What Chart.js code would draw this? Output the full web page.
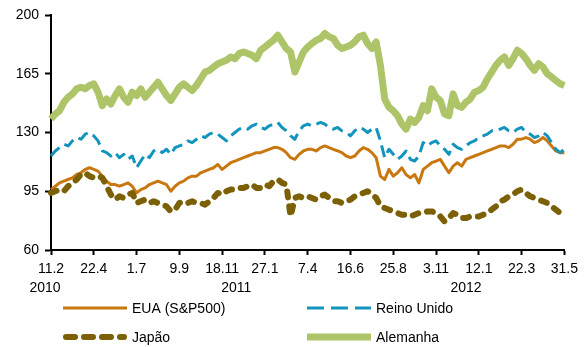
<!DOCTYPE html>
<html>
<head>
<meta charset="utf-8">
<script src="https://cdn.jsdelivr.net/npm/chart.js@4.4.1/dist/chart.umd.min.js"></script>
<style>
  html, body { margin: 0; padding: 0; background: #ffffff; }
  canvas { display: block; }
</style>
</head>
<body>
<canvas id="chart" width="584" height="347"></canvas>
<script>
// Weekly index levels, Feb 2010 – May 2012 (start ≈ 100)
const tickLabels = ['11.2', '22.4', '1.7', '9.9', '18.11', '27.1', '7.4', '16.6', '25.8', '3.11', '12.1', '22.3', '31.5'];
const yearLabels = ['2010', '2011', '2012'];
const seriesNames = ['EUA (S&P500)', 'Reino Unido', 'Japão', 'Alemanha'];

const eua = [96, 98, 100, 101, 102, 103, 105, 106, 108, 109, 108, 107, 104, 101, 99, 99, 98, 99, 100, 98,
  94, 96, 97, 99, 100, 101, 100, 99, 95, 98, 100, 101, 103, 104, 104, 106, 107, 108, 109, 111,
  108, 110, 112, 113, 114, 115, 116, 117, 118, 118, 119, 120, 121, 121, 120, 118, 115, 114, 117, 119,
  120, 120, 119, 121, 122, 121, 120, 119, 118, 116, 115, 116, 119, 121, 120, 118, 115, 104, 102, 108,
  104, 106, 109, 105, 103, 105, 100, 108, 110, 112, 113, 114, 110, 106, 110, 112, 110, 114, 115, 116,
  117, 118, 119, 120, 121, 122, 122, 121, 123, 126, 126, 127, 126, 124, 125, 127, 125, 122, 119, 118, 118];

const reinoUnido = [116, 119, 121, 123, 122, 125, 127, 126, 129, 130, 128, 125, 119, 118, 116, 118, 115, 117, 114, 116,
  109, 113, 117, 115, 119, 120, 118, 120, 117, 121, 122, 123, 125, 124, 126, 128, 127, 129, 130, 129,
  127, 125, 128, 130, 132, 133, 132, 134, 135, 133, 132, 134, 135, 136, 133, 131, 128, 126, 131, 134,
  135, 134, 135, 136, 135, 133, 132, 133, 131, 130, 128, 131, 133, 132, 130, 132, 133, 125, 115, 120,
  117, 114, 116, 119, 114, 113, 116, 124, 122, 124, 125, 122, 120, 117, 123, 121, 120, 122, 124, 125,
  127, 128, 129, 131, 131, 132, 133, 131, 130, 132, 133, 130, 129, 127, 128, 130, 128, 124, 120, 118, 120];

const japao = [94, 95, 96, 95, 98, 100, 102, 105, 106, 104, 103, 104, 103, 98, 93, 90, 92, 91, 93, 94,
  88, 89, 90, 88, 89, 88, 87, 86, 83, 84, 88, 89, 88, 89, 88, 88, 87, 89, 91, 94,
  93, 95, 96, 96, 97, 97, 98, 99, 97, 97, 99, 98, 101, 102, 100, 99, 80, 91, 92, 91,
  92, 91, 90, 92, 93, 91, 89, 89, 88, 89, 90, 92, 93, 94, 95, 93, 91, 86, 85, 84,
  83, 82, 81, 81, 80, 81, 82, 82, 83, 83, 82, 80, 77, 79, 82, 81, 79, 79, 80, 80,
  80, 81, 82, 84, 86, 89, 90, 92, 93, 95, 96, 94, 92, 91, 90, 89, 88, 86, 84, 82, 81];

const alemanha = [138, 141, 143, 148, 151, 153, 156, 157, 156, 158, 159, 154, 146, 150, 147, 152, 156, 151, 148, 154,
  152, 156, 151, 154, 157, 160, 156, 152, 149, 153, 157, 159, 157, 155, 158, 162, 166, 167, 169, 171,
  172, 173, 175, 174, 177, 178, 177, 176, 174, 179, 181, 183, 185, 188, 184, 180, 178, 166, 172, 178,
  181, 183, 185, 186, 189, 187, 186, 182, 180, 181, 182, 184, 187, 188, 183, 180, 184, 170, 150, 145,
  143, 140, 135, 132, 138, 136, 139, 146, 143, 156, 151, 149, 141, 140, 153, 146, 145, 148, 150, 154,
  155, 157, 162, 166, 170, 173, 175, 170, 174, 179, 177, 174, 170, 167, 171, 169, 165, 163, 161, 159, 158];

// one category per week; a labelled tick every ten weeks
const weeks = eua.map((_, i) => i);
const WEEKS_PER_TICK = 10;

const FONT = '"Liberation Sans", Arial, sans-serif';

// year captions under the date ticks (positions in week units)
const yearCaptionPlugin = {
  id: 'yearCaptions',
  afterDraw(chart, args, opts) {
    const { ctx } = chart;
    const xs = chart.scales.x;
    ctx.save();
    ctx.font = '14px ' + FONT;
    ctx.fillStyle = '#000';
    ctx.textAlign = 'center';
    ctx.textBaseline = 'middle';
    yearLabels.forEach((t, k) => {
      ctx.fillText(t, xs.getPixelForValue(opts.at[k]), opts.y);
    });
    ctx.restore();
  }
};

// two-column legend drawn with each dataset's own line style
const gridLegendPlugin = {
  id: 'gridLegend',
  afterDraw(chart, args, opts) {
    const { ctx } = chart;
    ctx.save();
    ctx.font = '14px ' + FONT;
    ctx.textBaseline = 'middle';
    ctx.textAlign = 'left';
    chart.data.datasets.forEach((ds, i) => {
      const col = i % 2, row = Math.floor(i / 2);
      const x = opts.cols[col], y = opts.rows[row];
      ctx.beginPath();
      ctx.strokeStyle = ds.borderColor;
      ctx.lineWidth = ds.borderWidth;
      ctx.lineCap = ds.borderCapStyle || 'butt';
      ctx.setLineDash(ds.legendDash || ds.borderDash || []);
      const pad = ds.borderCapStyle === 'round' ? ds.borderWidth / 2 : 0;
      ctx.moveTo(x + pad, y);
      ctx.lineTo(x + opts.lineLen - pad, y);
      ctx.stroke();
      ctx.setLineDash([]);
      ctx.fillStyle = '#000';
      ctx.fillText(ds.label, x + opts.lineLen + 5, y + 1);
    });
    ctx.restore();
  }
};

new Chart(document.getElementById('chart'), {
  type: 'line',
  data: {
    labels: weeks,
    datasets: [
      {
        label: seriesNames[0], data: eua,
        borderColor: '#C8780F', borderWidth: 3, order: 2
      },
      {
        label: seriesNames[1], data: reinoUnido,
        borderColor: '#1195BD', borderWidth: 3, borderDash: [12, 6], legendDash: [17, 7], order: 1
      },
      {
        label: seriesNames[2], data: japao,
        borderColor: '#7C6005', borderWidth: 6, borderDash: [6, 9], borderCapStyle: 'round',
        legendDash: [9, 9], order: 0
      },
      {
        label: seriesNames[3], data: alemanha,
        borderColor: '#ADC468', borderWidth: 7, order: 3
      }
    ]
  },
  options: {
    responsive: false,
    devicePixelRatio: 1,
    animation: false,
    layout: { padding: { top: 15, right: 17, left: 0, bottom: 0 } },
    elements: {
      point: { radius: 0, hoverRadius: 0 },
      line: { tension: 0, borderJoinStyle: 'round', fill: false }
    },
    plugins: {
      legend: { display: false },
      tooltip: { enabled: false },
      yearCaptions: { at: [-1.4, 43.3, 97], y: 288 },
      gridLegend: { cols: [63, 307], rows: [308, 337], lineLen: 64 }
    },
    scales: {
      x: {
        type: 'category',
        afterFit(scale) { scale.height = 97; },
        border: { display: true, color: '#000', width: 2 },
        grid: { display: true, drawOnChartArea: false, drawTicks: true, tickLength: 5, tickColor: '#000', tickWidth: 2 },
        ticks: {
          autoSkip: false, maxRotation: 0, padding: 6, color: '#000',
          font: { family: FONT, size: 14 },
          callback: (v, i) => (i % WEEKS_PER_TICK === 0 ? tickLabels[i / WEEKS_PER_TICK] : null)
        }
      },
      y: {
        min: 60, max: 200,
        afterFit(scale) { scale.width = 51; },
        border: { display: true, color: '#000', width: 2 },
        grid: { display: true, drawOnChartArea: false, drawTicks: true, tickLength: 6, tickColor: '#000', tickWidth: 2 },
        ticks: { stepSize: 35, padding: 6, color: '#000', font: { family: FONT, size: 14 } }
      }
    }
  },
  plugins: [yearCaptionPlugin, gridLegendPlugin]
});
</script>
</body>
</html>
